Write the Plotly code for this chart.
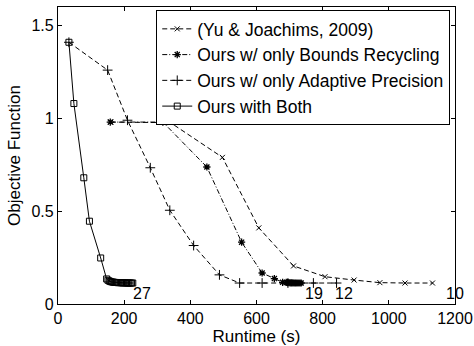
import plotly.graph_objects as go

# ---- data ----
yu_x = [160, 340, 497, 607, 712, 807, 895, 973, 1049, 1132]
yu_y = [0.98, 0.977, 0.79, 0.41, 0.205, 0.147, 0.129, 0.115, 0.113, 0.113]

br_x = [158, 317, 450, 555, 617, 654, 679, 690, 694, 698, 702, 706, 710, 714, 718, 722, 726, 731, 735]
br_y = [0.98, 0.98, 0.738, 0.333, 0.167, 0.137, 0.117, 0.116, 0.115, 0.115, 0.114, 0.114, 0.114,
        0.113, 0.113, 0.113, 0.113, 0.113, 0.113]

ap_x = [33, 150, 210, 279, 338, 410, 488, 549, 617, 695, 772, 842]
ap_y = [1.41, 1.26, 0.99, 0.734, 0.505, 0.315, 0.157, 0.113, 0.113, 0.113, 0.113, 0.113]

both_x = [33, 48, 78, 95, 129, 147, 151, 155, 158, 162, 166, 170, 173, 177, 181, 184, 188,
          192, 196, 199, 203, 207, 211, 214, 218, 222, 226]
both_y = [1.41, 1.08, 0.68, 0.446, 0.248, 0.135, 0.128, 0.124, 0.121, 0.119, 0.118, 0.117,
          0.116, 0.116, 0.115, 0.115, 0.115, 0.114, 0.114, 0.114, 0.114, 0.113, 0.113, 0.113,
          0.113, 0.113, 0.113]

names = ["(Yu & Joachims, 2009)", "Ours w/ only Bounds Recycling",
         "Ours w/ only Adaptive Precision", "Ours with Both"]

end_labels = ["27", "19", "12", "10"]
end_label_x = [222, 740, 830, 1167]
end_label_y = [0.056, 0.059, 0.059, 0.059]

x_ticks = [0, 200, 400, 600, 800, 1000, 1200]
y_ticks = [0, 0.5, 1, 1.5]
y_tick_text = ["0", "0.5", "1", "1.5"]

FONT = "Liberation Sans, Arial, Helvetica, sans-serif"

fig = go.Figure()
fig.add_trace(go.Scatter(
    x=yu_x, y=yu_y, name=names[0], mode="lines+markers",
    line=dict(color="black", width=1, dash="5px,3px"),
    marker=dict(symbol="x-thin", size=5, color="black", line=dict(color="black", width=1))))
fig.add_trace(go.Scatter(
    x=br_x, y=br_y, name=names[1], mode="lines+markers",
    line=dict(color="black", width=1, dash="5px,2px,1px,2px"),
    marker=dict(symbol="asterisk", size=6, color="black", line=dict(color="black", width=1.3))))
fig.add_trace(go.Scatter(
    x=ap_x, y=ap_y, name=names[2], mode="lines+markers",
    line=dict(color="black", width=1, dash="5px,3px"),
    marker=dict(symbol="cross-thin", size=7, color="black", line=dict(color="black", width=1))))
fig.add_trace(go.Scatter(
    x=both_x, y=both_y, name=names[3], mode="lines+markers",
    line=dict(color="black", width=1),
    marker=dict(symbol="square-open", size=6, color="black", line=dict(color="black", width=1))))

for t, x, y in zip(end_labels, end_label_x, end_label_y):
    fig.add_annotation(x=x, y=y, text=t, showarrow=False, xanchor="left", yanchor="middle",
                       font=dict(family=FONT, size=16, color="black"))

axis_common = dict(showline=True, linecolor="black", linewidth=1.2, mirror="ticks",
                   ticks="inside", ticklen=4, tickcolor="black", showgrid=False,
                   zeroline=False, tickfont=dict(family=FONT, size=16, color="black"))

fig.update_xaxes(range=[0, 1200], tickvals=x_ticks, **axis_common,
                 title=dict(text="Runtime (s)", standoff=1,
                            font=dict(family=FONT, size=17, color="black")))
fig.update_yaxes(range=[0, 1.6], tickvals=y_ticks, ticktext=y_tick_text, **axis_common,
                 title=dict(text="Objective Function", standoff=6,
                            font=dict(family=FONT, size=17, color="black")))

fig.update_layout(
    width=474, height=346,
    margin=dict(l=58, r=19, t=7, b=42, autoexpand=False),
    paper_bgcolor="white", plot_bgcolor="white",
    showlegend=True,
    legend=dict(x=0.988, y=0.99, xanchor="right", yanchor="top",
                bgcolor="white", bordercolor="black", borderwidth=1,
                font=dict(family=FONT, size=17.5, color="black"),
                tracegroupgap=0, itemsizing="trace"),
    font=dict(family=FONT, color="black"),
)

fig.write_html("out.html")
